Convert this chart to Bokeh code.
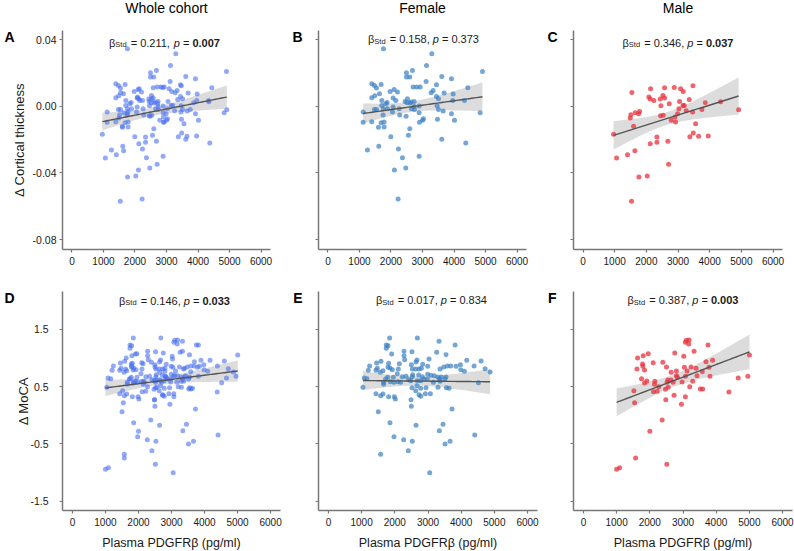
import numpy as np
from bokeh.plotting import figure
from bokeh.layouts import column, row
from bokeh.models import Label, FixedTicker, PrintfTickFormatter, CustomJSTickFormatter, Range1d, LinearAxis
from bokeh.embed import file_html
from bokeh.resources import INLINE

# ---------------- data ----------------
col_titles = ["Whole cohort", "Female", "Male"]
panel_letters = ["A", "B", "C", "D", "E", "F"]
x_title = "Plasma PDGFR\u03b2 (pg/ml)"
y_titles = ["\u0394 Cortical thickness", "\u0394 MoCA"]
x_ticks = [0, 1000, 2000, 3000, 4000, 5000, 6000]
ct_ticks = [-0.08, -0.04, 0.0, 0.04]
moca_ticks = [-1.5, -0.5, 0.5, 1.5]

stats_beta = ["0.211", "0.158", "0.346", "0.146", "0.017", "0.387"]
stats_p = ["0.007", "0.373", "0.037", "0.033", "0.834", "0.003"]
stats_sig = [True, False, True, True, False, True]

ct_female_x = [1761, 3295, 3126, 4903, 2681, 2491, 2491, 2597, 3612, 3919,
               3115, 3443, 1391, 1475, 1539, 1687, 1634, 1391, 1486, 2100,
               1973, 2205, 2703, 2819, 2925, 3337, 3274, 4437, 3972, 3687,
               3443, 3507, 2068, 2152, 1708, 1877, 1835, 2523, 2448, 2639,
               2734, 2512, 2607, 3962, 4332, 1708, 1761, 1888, 2068, 1475,
               1539, 1116, 2047, 2258, 2734, 2650, 2893, 2745, 3464, 3507,
               3655, 2893, 3919, 4829, 2279, 2480, 1750, 1687, 1782, 1116,
               1391, 1602, 1782, 3031, 3000, 2904, 3475, 4015, 2597, 2554,
               1994, 3612, 4374, 1253, 1613, 2237, 2893, 2364, 2470, 2110,
               2226]
ct_female_y = [0.0346, 0.0316, 0.0246, 0.0210, 0.0216, 0.0202, 0.0176, 0.0176, 0.0180, 0.0166,
               0.0150, 0.0130, 0.0136, 0.0126, 0.0110, 0.0132, 0.0076, 0.0052, 0.0064, 0.0102,
               0.0090, 0.0086, 0.0116, 0.0116, 0.0116, 0.0096, 0.0082, 0.0112, 0.0074, 0.0080,
               0.0060, 0.0046, 0.0050, 0.0036, 0.0036, 0.0024, 0.0016, 0.0046, 0.0030, 0.0026,
               0.0030, 0.0022, 0.0020, 0.0036, 0.0036, 0.0006, -0.0014, -0.0014, -0.0004, -0.0018,
               -0.0018, -0.0034, -0.0034, -0.0014, 0.0000, -0.0014, 0.0002, -0.0018, 0.0004, -0.0018,
               -0.0028, -0.0038, -0.0044, -0.0038, -0.0052, -0.0060, -0.0052, -0.0098, -0.0094, -0.0096,
               -0.0092, -0.0126, -0.0124, -0.0074, -0.0084, -0.0096, -0.0078, -0.0084, -0.0134, -0.0174,
               -0.0182, -0.0198, -0.0220, -0.0262, -0.0240, -0.0256, -0.0300, -0.0308, -0.0370, -0.0382,
               -0.0556]

ct_male_x = [965, 1544, 2134, 2576, 2881, 3081, 3166, 3471, 2081, 2123,
             2239, 2439, 2523, 2576, 2723, 2460, 3050, 3155, 3197, 3029,
             3355, 3861, 4345, 4914, 3755, 3460, 3260, 2987, 2902, 2787,
             2923, 2534, 2450, 1649, 1786, 1755, 1512, 1491, 1597, 3555,
             3481, 3376, 3650, 3955, 2334, 2334, 2123, 2681, 1639, 1407,
             1060, 2702, 1765, 2028, 1533]
ct_male_y = [-0.0168, 0.0084, 0.0106, 0.0112, 0.0114, 0.0106, 0.0090, 0.0124, 0.0056, 0.0044,
             0.0036, 0.0044, 0.0066, 0.0050, 0.0016, 0.0004, 0.0030, 0.0006, 0.0006, -0.0014,
             0.0042, 0.0022, 0.0028, -0.0020, -0.0018, -0.0034, -0.0026, -0.0044, -0.0064, -0.0084,
             -0.0094, -0.0054, -0.0056, -0.0038, -0.0030, -0.0044, -0.0050, -0.0070, -0.0120, -0.0104,
             -0.0160, -0.0182, -0.0180, -0.0178, -0.0184, -0.0216, -0.0224, -0.0210, -0.0266, -0.0290,
             -0.0310, -0.0348, -0.0424, -0.0418, -0.0570]

moca_female_x = [1844, 2679, 3333, 3816, 1743, 1794, 1743, 2277, 2518, 1904,
                 2277, 3262, 3544, 2297, 3031, 4168, 4600, 2669, 2639, 1582,
                 1452, 1814, 2136, 2498, 2840, 1240, 1472, 1432, 1200, 1079,
                 1039, 1160, 1794, 1854, 1925, 2106, 1643, 1562, 2075, 2528,
                 2629, 2729, 2800, 2991, 3363, 3474, 3585, 3685, 3846, 3977,
                 4389, 4721, 4872, 3987, 4098, 2538, 2719, 2830, 2528, 2991,
                 3091, 3302, 3403, 3544, 3192, 2337, 2226, 1955, 1784, 1723,
                 1663, 1663, 1864, 1975, 2096, 2176, 2417, 2478, 2679, 2780,
                 2880, 2981, 3162, 3343, 3514, 3363, 4520, 2669, 2518, 2780,
                 2941, 3302, 3554, 3635, 2629, 2921, 3071, 2729, 2780, 1432,
                 1572, 1643, 1814, 1985, 2015, 2488, 2498, 3725, 1502, 1854,
                 2639, 3453, 3343, 4409, 1975, 2267, 2528, 3665, 3514, 2407,
                 1572, 3051]
moca_female_y = [1.349, 1.349, 1.291, 1.227, 1.227, 1.215, 1.169, 1.116, 1.111, 1.070,
                 1.041, 1.099, 1.058, 0.971, 0.983, 0.959, 0.948, 0.965, 0.930, 0.942,
                 0.913, 0.907, 0.901, 0.884, 0.890, 0.860, 0.820, 0.785, 0.785, 0.651,
                 0.488, 0.639, 0.843, 0.826, 0.797, 0.808, 0.779, 0.750, 0.727, 0.808,
                 0.808, 0.808, 0.820, 0.855, 0.808, 0.843, 0.860, 0.860, 0.855, 0.884,
                 0.860, 0.814, 0.756, 0.797, 0.768, 0.709, 0.703, 0.674, 0.674, 0.715,
                 0.698, 0.669, 0.669, 0.669, 0.692, 0.680, 0.674, 0.663, 0.663, 0.634,
                 0.576, 0.541, 0.587, 0.576, 0.587, 0.576, 0.622, 0.605, 0.605, 0.605,
                 0.634, 0.634, 0.576, 0.634, 0.634, 0.593, 0.570, 0.517, 0.483, 0.471,
                 0.483, 0.488, 0.483, 0.471, 0.430, 0.378, 0.378, 0.361, 0.331, 0.378,
                 0.343, 0.372, 0.326, 0.326, 0.285, 0.273, 0.157, 0.110, 0.064, -0.128,
                 -0.174, -0.157, -0.267, -0.343, -0.372, -0.424, -0.453, -0.453, -0.500, -0.616,
                 -0.680, -1.000]

moca_male_x = [1000, 1090, 1571, 2512, 2001, 2372, 1521, 1541, 2111, 2222,
               2482, 2732, 2952, 3072, 3523, 3593, 4384, 4664, 4954, 5004,
               3102, 3182, 3172, 3072, 3753, 3333, 2752, 3022, 1951, 1801,
               1631, 1781, 1791, 1841, 1611, 2101, 2392, 2502, 2642, 2802,
               2802, 2832, 3042, 3122, 3242, 3393, 3693, 3893, 3783, 3583,
               3423, 3813, 3072, 2972, 3292, 3203, 1751, 1841, 1911, 2151,
               2141, 2272, 2542, 2642, 2702, 2522, 2552, 2472]
moca_male_y = [-0.942, -0.913, -0.744, -0.855, -0.279, -0.081, 0.430, 0.221, 0.413, 0.419,
               0.273, 0.349, 0.192, 0.326, 0.459, 0.459, 0.407, 0.651, 0.680, 1.052,
               1.308, 1.314, 1.244, 1.273, 1.227, 1.116, 1.087, 1.029, 1.076, 1.041,
               1.000, 0.895, 0.855, 0.791, 0.808, 0.919, 0.925, 0.843, 0.750, 0.773,
               0.692, 0.663, 0.837, 0.773, 0.843, 0.820, 0.936, 0.959, 0.837, 0.762,
               0.692, 0.680, 0.680, 0.581, 0.593, 0.500, 0.640, 0.564, 0.599, 0.593,
               0.541, 0.500, 0.616, 0.616, 0.576, 0.576, 0.488, 0.453]

# whole cohort = female + male
ct_all_x = ct_female_x + ct_male_x
ct_all_y = ct_female_y + ct_male_y
moca_all_x = moca_female_x + moca_male_x
moca_all_y = moca_female_y + moca_male_y

# ---------------- styling ----------------
FONT = "Liberation Sans"
COLORS = ["#4a70ee", "#3a80c2", "#e8323c"]
ALPHAS = [0.6, 0.7, 0.75]
AXIS_COLOR = "#777777"
TEXT_COLOR = "#1a1a1a"

W = {' ': 0.278, '=': 0.584, '.': 0.278, ',': 0.278, 'p': 0.556, '\u03b2': 0.575,
     'S': 0.667, 't': 0.278, 'd': 0.556}
for ch in "0123456789":
    W[ch] = 0.556


def text_w(s, size):
    return sum(W.get(ch, 0.556) for ch in s) * size


def fit_band(x, y, t=1.98):
    x = np.asarray(x, float)
    y = np.asarray(y, float)
    n = len(x)
    b1, b0 = np.polyfit(x, y, 1)
    xs = np.linspace(x.min(), x.max(), 80)
    yh = b0 + b1 * xs
    res = y - (b0 + b1 * x)
    s = np.sqrt(res @ res / (n - 2))
    se = s * np.sqrt(1.0 / n + (xs - x.mean()) ** 2 / ((x - x.mean()) ** 2).sum())
    return xs, yh, yh - t * se, yh + t * se


def style_axis(ax):
    ax.axis_line_color = AXIS_COLOR
    ax.axis_line_width = 1.5
    ax.major_tick_line_color = AXIS_COLOR
    ax.major_tick_line_width = 1.2
    ax.major_tick_out = 3
    ax.major_tick_in = 0
    ax.minor_tick_line_color = None
    ax.major_label_text_font = FONT
    ax.major_label_text_color = TEXT_COLOR
    ax.axis_label_text_font = FONT
    ax.axis_label_text_font_style = "normal"
    ax.axis_label_text_color = TEXT_COLOR


def text_axis(tick, label, standoff, size, style):
    # an axis with no line and no tick mark, used only to carry one text
    return LinearAxis(ticker=FixedTicker(ticks=[tick], minor_ticks=[]),
                      formatter=CustomJSTickFormatter(code="return %r" % label),
                      axis_line_color=None, major_tick_line_color=None, minor_tick_line_color=None,
                      major_tick_out=0, major_tick_in=0, major_label_standoff=standoff,
                      axis_label_standoff=0,
                      major_label_text_font=FONT, major_label_text_font_size=size,
                      major_label_text_font_style=style, major_label_text_color="black")


def make_panel(i, xs, ys, fw, fh, left, right, top, bottom, yr, yticks, yfmt,
               letter_val, letter_standoff, ylab_standoff, ytick_standoff):
    r, c = divmod(i, 3)
    p = figure(frame_width=fw, frame_height=fh, min_border_left=left, min_border_right=right,
               min_border_top=top, min_border_bottom=bottom, title=None,
               x_range=Range1d(-300, 6300), y_range=Range1d(*yr),
               output_backend="svg", toolbar_location=None, tools="")
    p.outline_line_color = None
    p.grid.grid_line_color = None
    p.background_fill_color = "white"
    p.border_fill_color = "white"

    xax = p.xaxis[0]
    yax = p.yaxis[0]
    style_axis(xax)
    style_axis(yax)
    xax.ticker = FixedTicker(ticks=x_ticks)
    xax.formatter = PrintfTickFormatter(format="%d")
    xax.major_label_text_font_size = "10px"
    xax.major_label_standoff = 4
    if r == 1:
        xax.axis_label = x_title
        xax.axis_label_text_font_size = "12.5px"
        xax.axis_label_standoff = 7

    yax.ticker = FixedTicker(ticks=yticks)
    yax.major_label_text_font_size = "10.5px"
    yax.major_label_standoff = ytick_standoff
    if c == 0:
        yax.formatter = PrintfTickFormatter(format=yfmt)
        yax.axis_label = y_titles[r]
        yax.axis_label_text_font_size = "13px"
        yax.axis_label_standoff = ylab_standoff
    else:
        yax.formatter = CustomJSTickFormatter(code="return ''")
        yax.axis_label_standoff = 0

    # panel letter (outer left axis carrying one bold label)
    p.add_layout(text_axis(letter_val, panel_letters[i], letter_standoff, "14px", "bold"), "left")

    bx, by, lo, hi = fit_band(xs, ys)
    p.varea(x=bx, y1=lo, y2=hi, fill_color="#d6d6d6", fill_alpha=0.85)
    p.scatter(x=xs, y=ys, size=5, fill_color=COLORS[c], fill_alpha=ALPHAS[c], line_color=None)
    p.line(x=bx, y=by, line_color="#555555", line_width=1.4)

    # statistic annotation
    dys = [12, 8.5, 12, 9, 8.5, 8.5]
    dxs = [-2, 1, 0, 3, 3.5, 0]
    pieces = [("\u03b2", 11, "normal", 0, 0), ("Std", 7.5, "normal", -2, 1.0),
              (" = " + stats_beta[i] + ", ", 11, "normal", 0, 0), ("p", 11, "italic", 0, 0),
              (" = ", 11, "normal", 0, 0), (stats_p[i], 11, "bold" if stats_sig[i] else "normal", 0, 0)]
    total = sum(text_w(t, s) + extra for t, s, _, _, extra in pieces)
    x0 = fw / 2 + dxs[i] - total / 2
    base = fh - dys[i]
    for t, s, st, off, extra in pieces:
        lead = len(t) - len(t.lstrip(" "))
        p.add_layout(Label(x=x0 + text_w(" " * lead, s), y=base + off, x_units="screen", y_units="screen",
                           text=t.strip(), text_font=FONT, text_font_size=f"{s}px",
                           text_font_style=st, text_color=TEXT_COLOR,
                           text_align="left", text_baseline="alphabetic"))
        x0 += text_w(t, s) + extra
    return p


# panel geometry: (left border, frame width, right border)
top_geom = [(62, 208, 18), (30, 208, 17), (30, 209, 12)]
bot_geom = [(62, 218, 8), (30, 219, 6), (30, 219, 2)]
HEAD_H = 18

ct_rng = (-0.086, 0.0456)
mo_rng = (-1.66, 2.16)
ct_letter = 0.0416
mo_letter = 2.04
tg, bg = top_geom, bot_geom
pA = make_panel(0, ct_all_x, ct_all_y, tg[0][1], 219, tg[0][0], tg[0][2], 30 - HEAD_H, 31, ct_rng, ct_ticks, "%.2f", ct_letter, -6, 3, 3)
pB = make_panel(1, ct_female_x, ct_female_y, tg[1][1], 219, tg[1][0], tg[1][2], 30 - HEAD_H, 31, ct_rng, ct_ticks, "%.2f", ct_letter, 13, 0, 0)
pC = make_panel(2, ct_male_x, ct_male_y, tg[2][1], 219, tg[2][0], tg[2][2], 30 - HEAD_H, 31, ct_rng, ct_ticks, "%.2f", ct_letter, 13, 0, 0)
pD = make_panel(3, moca_all_x, moca_all_y, bg[0][1], 219, bg[0][0], bg[0][2], 11, 41, mo_rng, moca_ticks, "%.1f", mo_letter, -1, -4, 11)
pE = make_panel(4, moca_female_x, moca_female_y, bg[1][1], 219, bg[1][0], bg[1][2], 11, 41, mo_rng, moca_ticks, "%.1f", mo_letter, 13, 0, 0)
pF = make_panel(5, moca_male_x, moca_male_y, bg[2][1], 219, bg[2][0], bg[2][2], 11, 41, mo_rng, moca_ticks, "%.1f", mo_letter, 14, 0, 0)

# header strip carrying the column titles, centred over each top-row frame
total_w = sum(a + b + c for a, b, c in top_geom)
head = figure(width=total_w, height=HEAD_H, min_border_left=0, min_border_right=0,
              min_border_top=0, min_border_bottom=0, title=None,
              x_range=Range1d(0, total_w), y_range=Range1d(0, HEAD_H),
              x_axis_type=None, y_axis_type=None,
              output_backend="svg", toolbar_location=None, tools="")
head.outline_line_color = None
head.grid.grid_line_color = None
x_start = 0
for k, (lb, fwk, rb) in enumerate(top_geom):
    centre = x_start + lb + fwk / 2
    head.add_layout(Label(x=centre, y=HEAD_H - 7, x_units="screen", y_units="screen",
                          text=col_titles[k], text_font=FONT, text_font_size="14px",
                          text_color="black", text_align="center", text_baseline="middle"))
    x_start += lb + fwk + rb

layout = column(head, row(pA, pB, pC, spacing=0), row(pD, pE, pF, spacing=0), spacing=0)
open("out.html", "w").write(file_html(layout, INLINE))
